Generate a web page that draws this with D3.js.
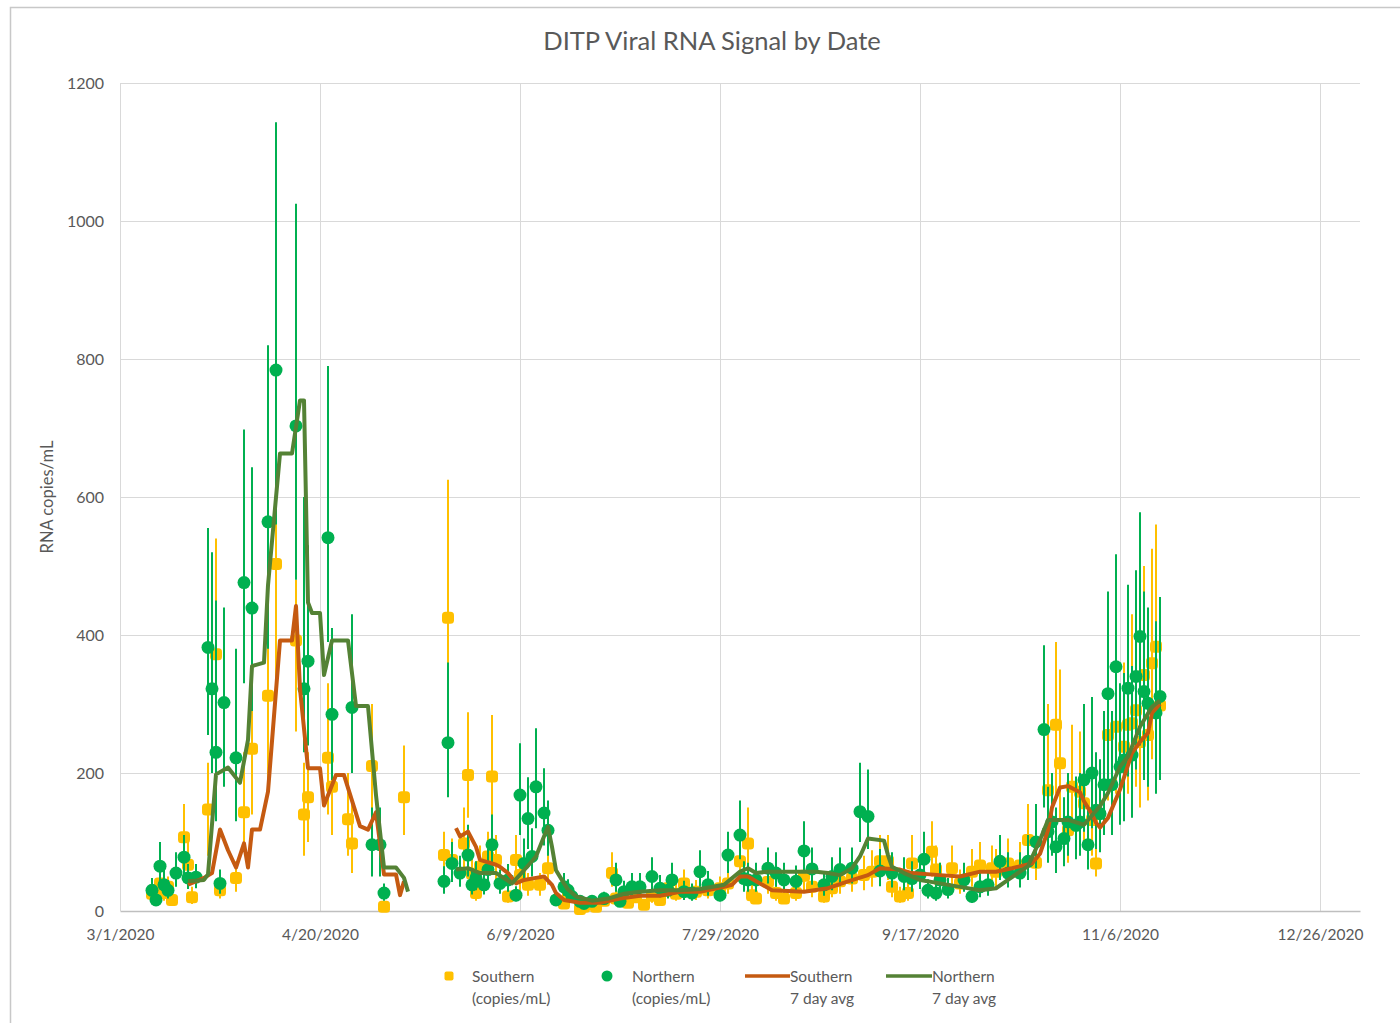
<!DOCTYPE html>
<html>
<head>
<meta charset="utf-8">
<script src="https://cdn.jsdelivr.net/npm/d3@7"></script>
<style>
  html, body { margin: 0; padding: 0; background: #ffffff; }
  svg { display: block; }
  text { font-family: Lato, "Open Sans", "Liberation Sans", sans-serif; fill: #595959; }
</style>
</head>
<body>
<svg id="chart" width="1400" height="1023"></svg>
<script>
// ---------------- DATA ----------------
const chartTitle = "DITP Viral RNA Signal by Date";
const yAxisTitle = "RNA copies/mL";
const startDate = "2020-03-01";           // day 0 of the series
const endDate = "2021-01-05";             // right end of the plot area
const xTicks = ["2020-03-01", "2020-04-20", "2020-06-09", "2020-07-29", "2020-09-17", "2020-11-06", "2020-12-26"];
const xTickLabels = ["3/1/2020", "4/20/2020", "6/9/2020", "7/29/2020", "9/17/2020", "11/6/2020", "12/26/2020"];
const yTicks = [0, 200, 400, 600, 800, 1000, 1200];
const seriesNames = ["Southern|(copies/mL)", "Northern|(copies/mL)", "Southern|7 day avg", "Northern|7 day avg"];

// [day since 3/1/2020, copies/mL, error-bar low, error-bar high]
const southern = [
  [8,25,15,40],[10,40,25,58],[11,26,15,40],[12,35,22,50],[13,16,8,26],[16,107,65,155],[17,67,40,100],
  [18,20,10,35],[22,147,80,215],[24,372,210,540],[25,30,18,45],[29,48,28,72],[31,143,90,230],
  [33,235,140,390],[37,312,190,470],[39,503,330,660],[44,392,260,480],[46,140,80,215],[47,165,100,230],
  [52,222,140,330],[53,180,110,250],[57,133,80,200],[58,98,55,160],[63,210,140,300],[66,6,2,12],
  [71,165,110,240],
  [81,81,50,115],[82,425,270,625],[83,74,45,105],[86,98,60,150],[87,197,135,288],[88,54,35,80],
  [89,26,15,40],[90,64,40,95],[92,79,50,115],[93,195,125,284],[94,74,45,110],[97,21,12,35],
  [99,74,45,110],[100,52,30,80],[102,38,22,55],[105,38,22,55],[107,62,38,90],[111,11,5,20],
  [112,21,12,32],[115,3,1,8],[116,6,2,12],[119,6,2,12],[121,15,8,25],[123,55,35,85],[124,18,10,30],
  [127,12,6,20],[129,20,12,32],[131,9,4,16],[133,22,12,35],[135,16,8,26],[137,33,20,50],[139,25,15,40],
  [141,40,25,60],[144,28,16,45],[147,30,18,48],[150,33,20,50],[152,40,25,60],[155,72,45,110],
  [157,98,60,150],[158,23,12,38],[159,18,10,30],[162,42,25,65],[164,26,15,42],[166,18,10,30],
  [169,26,15,42],[171,51,30,80],[173,35,20,55],[176,21,12,35],[178,33,20,52],[180,43,25,68],
  [183,47,28,72],[186,52,30,80],[188,57,35,88],[190,72,45,110],[192,72,45,110],[193,35,20,55],
  [195,21,12,35],[197,26,15,42],[198,69,40,110],[203,86,50,130],[204,60,35,95],[205,45,28,70],
  [208,62,38,95],[210,40,25,60],[213,57,35,90],[215,66,40,100],[218,62,38,95],[219,57,35,90],
  [222,69,42,105],[225,66,40,100],[227,103,65,155],[229,70,45,110],[232,175,110,300],[234,270,170,390],
  [235,214,130,350],[237,117,70,180],[238,180,110,270],[240,173,105,260],[241,156,95,240],
  [243,132,80,200],[244,69,50,95],[247,255,160,380],[249,267,170,400],[251,238,150,360],
  [252,270,170,410],[253,272,170,430],[254,291,180,440],[255,245,150,380],[256,342,210,500],
  [257,255,160,390],[258,359,220,525],[259,383,240,560],[260,298,190,450]
];

const northern = [
  [8,30,15,48],[9,16,8,26],[10,65,42,100],[11,38,25,60],[12,30,18,45],[14,55,35,85],[16,78,50,110],
  [17,48,32,68],[19,49,33,68],[22,382,255,555],[23,322,200,520],[24,230,130,450],[25,40,25,60],
  [26,302,180,440],[29,222,130,380],[31,476,330,698],[33,439,290,643],[37,564,380,820],
  [39,784,560,1143],[44,703,480,1025],[46,322,230,600],[47,362,240,530],[52,541,390,790],
  [53,285,190,410],[58,295,200,430],[63,96,50,150],[65,96,50,150],[66,26,15,40],
  [81,43,25,65],[82,244,165,360],[83,69,42,100],[85,55,35,80],[87,81,50,125],[88,38,24,58],
  [89,48,30,72],[91,38,24,58],[92,60,38,90],[93,96,60,140],[95,40,25,60],[97,45,28,68],[99,23,14,36],
  [100,168,110,243],[101,69,42,105],[102,134,90,194],[103,79,50,120],[104,180,120,265],[106,142,95,207],
  [107,117,80,160],[109,16,9,26],[111,35,22,55],[112,30,18,46],[113,21,12,34],[115,14,8,22],
  [116,11,6,18],[118,14,8,22],[121,18,10,28],[124,45,28,70],[125,14,8,22],[126,28,16,44],
  [128,35,20,55],[130,35,20,55],[133,50,30,78],[135,33,20,52],[137,30,18,48],[138,45,28,70],
  [141,28,16,44],[143,26,15,40],[145,57,35,88],[147,38,22,58],[150,23,14,36],[152,81,55,115],
  [155,110,75,160],[156,47,28,72],[157,45,28,70],[159,45,28,70],[162,62,40,92],[164,55,35,85],
  [166,45,28,70],[169,43,26,66],[171,87,55,130],[173,61,38,92],[176,38,22,58],[178,50,30,78],
  [180,60,36,92],[183,62,40,92],[185,144,100,215],[187,137,90,205],[190,58,36,90],[193,55,34,85],
  [196,50,30,78],[198,47,28,72],[200,52,32,80],[201,75,45,115],[202,30,18,46],[204,26,15,40],
  [205,45,28,70],[207,31,18,48],[211,45,28,70],[213,21,12,34],[215,35,20,55],[217,38,22,58],
  [220,72,45,110],[222,55,34,85],[225,55,34,85],[227,72,45,110],[229,100,62,155],[231,263,150,385],
  [232,115,70,180],[233,129,80,200],[234,93,55,150],[236,105,65,165],[237,129,80,200],[239,124,75,195],
  [240,129,80,200],[241,190,115,300],[242,96,60,150],[243,200,120,310],[244,146,90,230],
  [245,141,85,220],[246,183,110,290],[247,315,190,463],[248,183,110,290],[249,354,215,517],
  [250,209,125,330],[251,219,130,345],[252,323,195,473],[253,226,135,355],[254,340,205,494],
  [255,398,240,578],[256,318,190,463],[257,301,180,440],[259,287,170,420],[260,311,190,455]
];

// [day since 3/1/2020, 7 day average]  (null = gap)
const southernAvg = [
  [17,38],[21,48],[23,55],[25,118],[27,88],[29,63],[31,98],[32,63],[33,118],[35,118],[37,173],
  [40,392],[43,392],[44,442],[45,322],[47,207],[50,207],[51,153],[54,197],[56,197],[60,123],
  [62,118],[64,143],[66,53],[69,53],[70,23],[71,43],
  [76,null],
  [84,120],[85,108],[87,115],[89,93],[90,74],[94,67],[95,64],[97,55],[99,40],[101,45],[104,48],
  [106,50],[108,38],[109,26],[111,16],[115,12],[120,12],[125,18],[130,22],[135,22],[140,28],
  [145,28],[151,35],[153,38],[155,50],[157,50],[160,40],[163,30],[171,28],[177,33],[182,43],
  [187,52],[190,62],[195,60],[198,55],[205,52],[210,50],[215,57],[219,57],[223,62],[228,69],
  [230,83],[232,117],[233,150],[235,179],[237,181],[240,172],[241,159],[243,140],[244,128],
  [245,121],[247,135],[250,176],[253,229],[255,245],[257,258],[258,287],[260,300]
];
const northernAvg = [
  [17,43],[21,45],[22,53],[24,198],[27,208],[29,193],[30,186],[32,248],[33,355],[36,360],[37,472],
  [40,663],[43,663],[45,740],[46,740],[47,447],[48,432],[50,432],[51,342],[53,392],[57,392],
  [59,297],[62,297],[64,168],[66,63],[69,63],[71,48],[72,28],
  [76,null],
  [84,60],[87,62],[90,55],[94,55],[98,40],[101,59],[104,79],[106,108],[107,122],[108,93],[109,59],
  [111,40],[112,31],[114,21],[118,15],[122,18],[126,25],[130,28],[135,30],[140,30],[145,32],
  [151,38],[155,57],[157,62],[159,55],[162,57],[167,57],[171,57],[174,57],[177,55],[180,52],
  [183,62],[185,79],[187,105],[191,102],[192,81],[193,64],[196,55],[200,45],[205,40],[210,35],
  [215,30],[219,33],[222,45],[225,57],[227,65],[230,103],[232,132],[237,132],[241,125],[245,152],
  [247,171],[250,209],[252,224],[255,267],[258,296],[260,305]
];

// ---------------- STYLE ----------------
const colors = { south: "#FFC000", north: "#00B050", southAvg: "#C55A11", northAvg: "#548235" };
const margin = { left: 120, right: 40, top: 83, bottom: 112 };
const W = 1400, H = 1023;

const svg = d3.select("#chart");
const parse = d3.utcParse("%Y-%m-%d");
const day0 = parse(startDate);
const toDate = d => d3.utcDay.offset(day0, d);

const x = d3.scaleUtc().domain([day0, parse(endDate)]).range([margin.left, W - margin.right]);
const y = d3.scaleLinear().domain([0, 1200]).range([H - margin.bottom, margin.top]);

// chart area frame
svg.append("rect").attr("x", 10.5).attr("y", 7.5).attr("width", W + 10).attr("height", H + 10)
  .attr("fill", "#fff").attr("stroke", "#c8c8c8").attr("stroke-width", 1.5);

// title
svg.append("text").attr("x", 712).attr("y", 50).attr("text-anchor", "middle")
  .style("font-size", "25.5px").text(chartTitle);

// gridlines
const grid = svg.append("g");
grid.selectAll("line.h").data(yTicks.slice(1)).join("line")
  .attr("x1", x.range()[0]).attr("x2", x.range()[1])
  .attr("y1", d => Math.round(y(d)) + 0.5).attr("y2", d => Math.round(y(d)) + 0.5)
  .attr("stroke", "#d9d9d9").attr("stroke-width", 1);
grid.selectAll("line.v").data(xTicks).join("line")
  .attr("x1", d => Math.round(x(parse(d))) + 0.5).attr("x2", d => Math.round(x(parse(d))) + 0.5)
  .attr("y1", y(1200)).attr("y2", y(0))
  .attr("stroke", "#d9d9d9").attr("stroke-width", 1);

// axes
const yAxis = d3.axisLeft(y).tickValues(yTicks).tickSize(0).tickPadding(16).tickFormat(d3.format("d"));
const gy = svg.append("g").attr("transform", `translate(${margin.left},0)`).call(yAxis);
gy.select(".domain").remove();
gy.selectAll("text").style("font-size", "16px").attr("fill", "#595959");

const xAxis = d3.axisBottom(x).tickValues(xTicks.map(parse)).tickSize(0).tickPadding(18)
  .tickFormat((d, i) => xTickLabels[i]);
const gx = svg.append("g").attr("transform", `translate(0,${y(0)})`).call(xAxis);
gx.select(".domain").attr("stroke", "#bfbfbf").attr("stroke-width", 1.5);
gx.selectAll("text").style("font-size", "15.5px").attr("fill", "#595959");

// y axis title
svg.append("text").attr("transform", `translate(53,497) rotate(-90)`).attr("text-anchor", "middle")
  .style("font-size", "16.5px").text(yAxisTitle);

// error bars + markers
function drawPoints(data, color, shape) {
  const g = svg.append("g");
  g.selectAll("line").data(data).join("line")
    .attr("x1", d => x(toDate(d[0]))).attr("x2", d => x(toDate(d[0])))
    .attr("y1", d => y(d[2])).attr("y2", d => y(d[3]))
    .attr("stroke", color).attr("stroke-width", 2);
  if (shape === "square") {
    g.selectAll("rect").data(data).join("rect")
      .attr("x", d => x(toDate(d[0])) - 6).attr("y", d => y(d[1]) - 6)
      .attr("width", 12).attr("height", 12).attr("rx", 3.5)
      .attr("fill", color);
  } else {
    g.selectAll("circle").data(data).join("circle")
      .attr("cx", d => x(toDate(d[0]))).attr("cy", d => y(d[1])).attr("r", 6.5)
      .attr("fill", color);
  }
}
drawPoints(southern, colors.south, "square");
drawPoints(northern, colors.north, "circle");

// 7-day average lines
const line = d3.line().defined(d => d[1] !== null)
  .x(d => x(toDate(d[0]))).y(d => y(d[1]));
svg.append("path").datum(southernAvg).attr("d", line).attr("fill", "none")
  .attr("stroke", colors.southAvg).attr("stroke-width", 4).attr("stroke-linejoin", "round");
svg.append("path").datum(northernAvg).attr("d", line).attr("fill", "none")
  .attr("stroke", colors.northAvg).attr("stroke-width", 4).attr("stroke-linejoin", "round");

// legend
const legendItems = [
  { name: seriesNames[0], type: "square", color: colors.south, mx: 449, tx: 472 },
  { name: seriesNames[1], type: "circle", color: colors.north, mx: 607, tx: 632 },
  { name: seriesNames[2], type: "line", color: colors.southAvg, mx: 745, tx: 790 },
  { name: seriesNames[3], type: "line", color: colors.northAvg, mx: 886, tx: 932 }
];
const lg = svg.append("g");
legendItems.forEach(it => {
  if (it.type === "square") {
    lg.append("rect").attr("x", it.mx - 4.5).attr("y", 971.5).attr("width", 9).attr("height", 9).attr("rx", 2).attr("fill", it.color);
  } else if (it.type === "circle") {
    lg.append("circle").attr("cx", it.mx).attr("cy", 976).attr("r", 5.5).attr("fill", it.color);
  } else {
    lg.append("line").attr("x1", it.mx).attr("x2", it.tx).attr("y1", 976).attr("y2", 976)
      .attr("stroke", it.color).attr("stroke-width", 3.5);
  }
  const parts = it.name.split("|");
  lg.append("text").attr("x", it.tx).attr("y", 982).style("font-size", "15.5px").text(parts[0]);
  lg.append("text").attr("x", it.tx).attr("y", 1004).style("font-size", "15.5px").text(parts[1]);
});
</script>
</body>
</html>
